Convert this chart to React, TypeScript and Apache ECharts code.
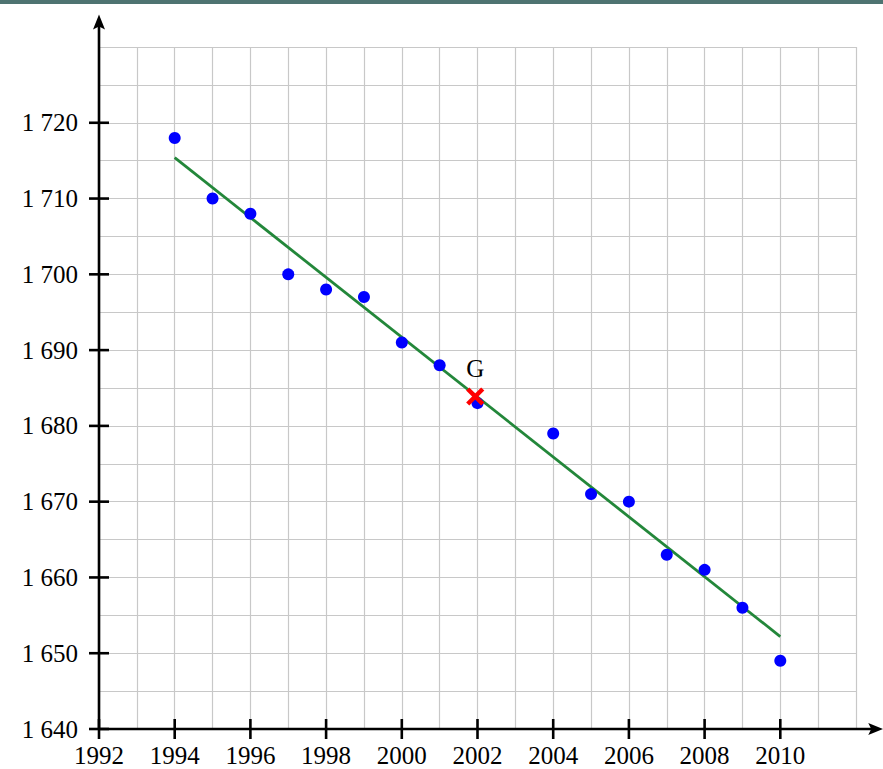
import React, { useEffect, useRef } from "react";
import * as echarts from "echarts";

const years = [1994, 1995, 1996, 1997, 1998, 1999, 2000, 2001, 2002, 2004, 2005, 2006, 2007, 2008, 2009, 2010];
const values = [1718, 1710, 1708, 1700, 1698, 1697, 1691, 1688, 1683, 1679, 1671, 1670, 1663, 1661, 1656, 1649];
const trendX = [1994, 2010];
const trendY = [1715.4, 1652.2];
const gPoint = [2001.94, 1683.875];
const gLabel = "G";
const xTicks = [1992, 1994, 1996, 1998, 2000, 2002, 2004, 2006, 2008, 2010];
const yTicks = [1640, 1650, 1660, 1670, 1680, 1690, 1700, 1710, 1720];
const xAxisEnd = 2012.72;
const yAxisEnd = 1734.3;

const FONT = "'Liberation Serif', 'DejaVu Serif', serif";

export default function App() {
  const ref = useRef<HTMLDivElement>(null);
  useEffect(() => {
    document.body.style.margin = "0";
    const chart = echarts.init(ref.current!, null, { renderer: "svg" });
    const xMin = xTicks[0];
    const yMin = yTicks[0];
    const option: any = {
      animation: false,
      backgroundColor: "#ffffff",
      graphic: [
        { type: "rect", left: 0, top: 0, shape: { width: 883, height: 4 }, style: { fill: "#4e7371" } },
      ],
      grid: { left: 99, top: 47, width: 757, height: 682, containLabel: false },
      xAxis: {
        type: "value",
        min: 1992,
        max: 2012,
        interval: 1,
        axisLine: { show: false },
        axisTick: { show: false },
        splitLine: { show: true, lineStyle: { color: "#c8c8c8", width: 1.2 } },
        axisLabel: {
          margin: 14,
          color: "#000",
          fontFamily: FONT,
          fontSize: 25,
          showMaxLabel: true,
          formatter: (v: number) => (xTicks.indexOf(v) >= 0 ? String(v) : ""),
        },
      },
      yAxis: {
        type: "value",
        min: 1640,
        max: 1730,
        interval: 5,
        axisLine: { show: false },
        axisTick: { show: false },
        splitLine: { show: true, lineStyle: { color: "#c8c8c8", width: 1.2 } },
        axisLabel: {
          margin: 21,
          color: "#000",
          fontFamily: FONT,
          fontSize: 25,
          formatter: (v: number) => {
            if (yTicks.indexOf(v) < 0) return "";
            const s = String(v);
            return s.slice(0, 1) + " " + s.slice(1);
          },
        },
      },
      series: [
        {
          type: "custom",
          clip: false,
          silent: true,
          z: 3,
          data: [[xMin, yMin]],
          renderItem: (params: any, api: any) => {
            const o = api.coord([xMin, yMin]);
            const xe = api.coord([xAxisEnd, yMin]);
            const ye = api.coord([xMin, yAxisEnd]);
            const children: any[] = [];
            const ls = { stroke: "#000", lineWidth: 2.6 };
            children.push({ type: "line", shape: { x1: o[0], y1: o[1], x2: xe[0] - 8, y2: o[1] }, style: ls });
            children.push({ type: "line", shape: { x1: o[0], y1: o[1], x2: o[0], y2: ye[1] + 8 }, style: ls });
            children.push({
              type: "polygon",
              shape: { points: [[xe[0], o[1]], [xe[0] - 15, o[1] - 6], [xe[0] - 12, o[1]], [xe[0] - 15, o[1] + 6]] },
              style: { fill: "#000" },
            });
            children.push({
              type: "polygon",
              shape: { points: [[o[0], ye[1]], [o[0] - 6, ye[1] + 15], [o[0], ye[1] + 12], [o[0] + 6, ye[1] + 15]] },
              style: { fill: "#000" },
            });
            xTicks.forEach((t) => {
              const p = api.coord([t, yMin]);
              children.push({ type: "line", shape: { x1: p[0], y1: p[1] - 10, x2: p[0], y2: p[1] + 10 }, style: ls });
            });
            yTicks.forEach((t) => {
              const p = api.coord([xMin, t]);
              children.push({ type: "line", shape: { x1: p[0] - 10, y1: p[1], x2: p[0] + 10, y2: p[1] }, style: ls });
            });
            return { type: "group", children };
          },
        },
        {
          type: "line",
          data: trendX.map((x, i) => [x, trendY[i]]),
          symbol: "none",
          z: 4,
          lineStyle: { color: "#23873a", width: 2.8 },
        },
        {
          type: "scatter",
          data: years.map((y, i) => [y, values[i]]),
          symbol: "circle",
          symbolSize: 12,
          z: 5,
          itemStyle: { color: "#0000ff", opacity: 1 },
        },
        {
          type: "custom",
          clip: false,
          z: 6,
          data: [gPoint],
          renderItem: (params: any, api: any) => {
            const p = api.coord([api.value(0), api.value(1)]);
            const st = { stroke: "#ff0000", lineWidth: 4.5 };
            const d = 7.5;
            return {
              type: "group",
              children: [
                { type: "line", shape: { x1: p[0] - d, y1: p[1] - d, x2: p[0] + d, y2: p[1] + d }, style: st },
                { type: "line", shape: { x1: p[0] - d, y1: p[1] + d, x2: p[0] + d, y2: p[1] - d }, style: st },
                {
                  type: "text",
                  x: p[0],
                  y: p[1] - 16,
                  style: { text: gLabel, fill: "#000", font: "25px " + FONT, align: "center", verticalAlign: "bottom" },
                },
              ],
            };
          },
        },
      ],
    };
    chart.setOption(option);
    return () => chart.dispose();
  }, []);
  return <div ref={ref} style={{ position: "fixed", left: 0, top: 0, width: 883, height: 769 }} />;
}
